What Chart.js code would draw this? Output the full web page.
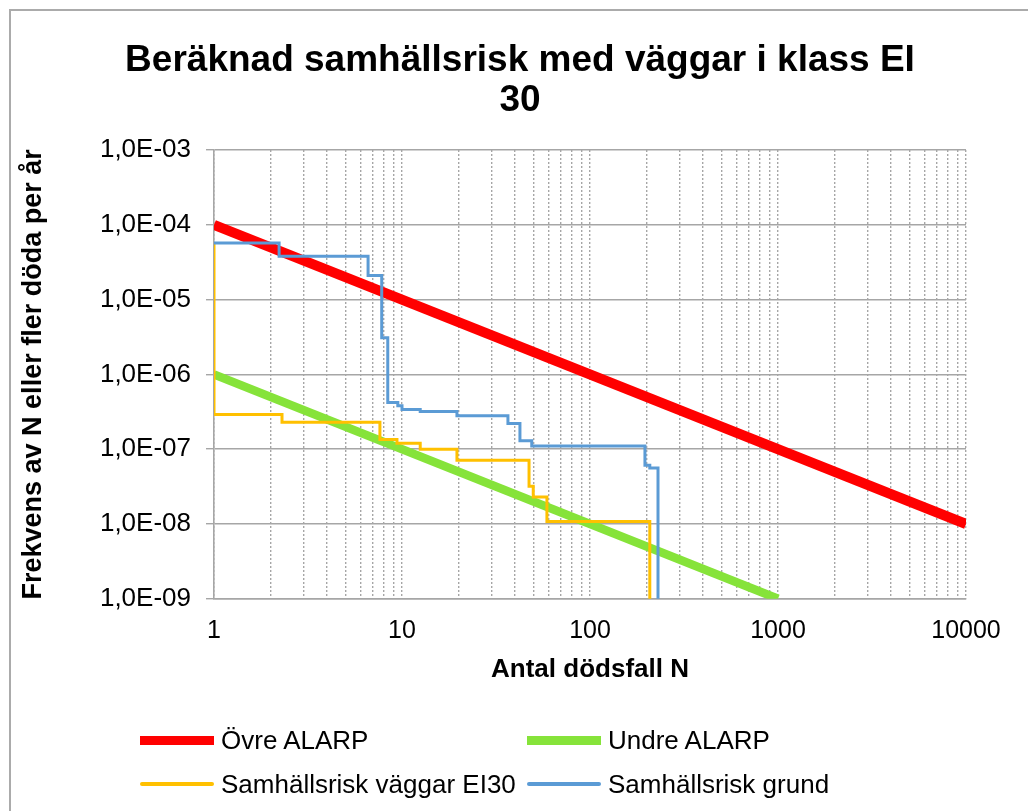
<!DOCTYPE html>
<html>
<head>
<meta charset="utf-8">
<title>Beräknad samhällsrisk</title>
<script src="https://cdn.jsdelivr.net/npm/chart.js@4.4.1/dist/chart.umd.min.js"></script>
<style>
  body { margin: 0; background: #fff; }
  #wrap { position: relative; width: 1028px; height: 811px; overflow: hidden; background: #fff;
          font-family: "Liberation Sans", Arial, sans-serif; }
  #frame { position: absolute; left: 9px; top: 9px; width: 1200px; height: 1000px;
           border: 2px solid #ABABAB; box-sizing: border-box; }
  #chart { position: absolute; left: 0; top: 0; }
  .leg-item { position: absolute; height: 30px; display: flex; align-items: center;
              font-size: 26px; color: #000; white-space: nowrap; }
  .leg-swatch { width: 74px; margin-right: 7px; }
</style>
</head>
<body>
<div id="wrap">
  <div id="frame"></div>
  <canvas id="chart" width="1028" height="811"></canvas>
  <div id="legend"></div>
</div>
<script>
// Axis ranges and tick labels
const xTickValues = [1, 10, 100, 1000, 10000];
const xTickLabels = ['1', '10', '100', '1000', '10000'];
const yTickValues = [1e-9, 1e-8, 1e-7, 1e-6, 1e-5, 1e-4, 1e-3];
const yTickLabels = ['1,0E-09', '1,0E-08', '1,0E-07', '1,0E-06', '1,0E-05', '1,0E-04', '1,0E-03'];

// ALARP limits (N, frequency)
const upperN = [1, 10000];
const upperF = [1e-4, 1e-8];
const lowerN = [1, 1000];
const lowerF = [1e-6, 1e-9];

// F/N curves (step curves)
const wallsN = [1, 1, 2.3, 7.63, 9.4, 12.5, 19.6, 47.4, 49.9, 59, 208];
const wallsF = [5.7e-5, 2.9e-7, 2.3e-7, 1.35e-7, 1.2e-7, 1.0e-7, 7.1e-8, 3.2e-8, 2.3e-8, 1.08e-8, 1e-10];
const baseN = [1, 2.22, 6.6, 7.8, 8.4, 9.5, 10, 12.5, 19.6, 36.6, 42.4, 49, 196, 208, 230];
const baseF = [5.7e-5, 3.8e-5, 2.1e-5, 3.1e-6, 4.2e-7, 3.8e-7, 3.4e-7, 3.2e-7, 2.8e-7, 2.2e-7, 1.3e-7, 1.1e-7, 6.1e-8, 5.6e-8, 1e-10];

// gridlines at 1..9 of every decade
const xGridValues = [];
for (let d = 1; d < 10000; d *= 10) {
  for (let m = 1; m < 10; m++) xGridValues.push(m * d);
}
xGridValues.push(10000);

const toPoints = (xs, ys) => xs.map((x, i) => ({ x: x, y: ys[i] }));
const FONT = "'Liberation Sans', Arial, sans-serif";
const GRID = '#A6A6A6';

// nudge the title centre like the original layout
const titleShift = {
  id: 'titleShift',
  afterLayout(chart) {
    chart.titleBlock.left = 16;
    chart.titleBlock.right = 1024;
  }
};

const chart = new Chart(document.getElementById('chart'), {
  type: 'scatter',
  data: {
    datasets: [
      { label: 'Övre ALARP', data: toPoints(upperN, upperF), borderColor: '#FF0000', borderWidth: 10, order: 4 },
      { label: 'Undre ALARP', data: toPoints(lowerN, lowerF), borderColor: '#86E33A', borderWidth: 8.5, order: 3 },
      { label: 'Samhällsrisk väggar EI30', data: toPoints(wallsN, wallsF), borderColor: '#FFC000', borderWidth: 3, stepped: 'before', order: 2 },
      { label: 'Samhällsrisk grund', data: toPoints(baseN, baseF), borderColor: '#5B9BD5', borderWidth: 3, stepped: 'before', order: 1 }
    ]
  },
  options: {
    responsive: false,
    animation: false,
    showLine: true,
    elements: { point: { radius: 0, hoverRadius: 0 }, line: { tension: 0, fill: false } },
    layout: { padding: { left: 15, right: 62, top: 12, bottom: 122 } },
    plugins: {
      legend: { display: false },
      tooltip: { enabled: false },
      title: {
        display: true,
        text: ['Beräknad samhällsrisk med väggar i klass EI', '30'],
        color: '#000',
        font: { family: FONT, size: 37, weight: 'bold', lineHeight: 1.081 },
        padding: { top: 29, bottom: 29 }
      }
    },
    scales: {
      x: {
        type: 'logarithmic',
        min: 1,
        max: 10000,
        afterBuildTicks: axis => {
          axis.ticks = xGridValues.map(v => ({ value: v }));
        },
        ticks: {
          autoSkip: false,
          maxRotation: 0,
          padding: 17,
          color: '#000',
          font: { family: FONT, size: 25 },
          callback: value => {
            const i = xTickValues.indexOf(value);
            return i >= 0 ? xTickLabels[i] : '';
          }
        },
        grid: { color: GRID, lineWidth: 1.4, drawTicks: false },
        border: { display: true, color: GRID, width: 1.6, dash: [2, 2] },
        title: {
          display: true,
          text: 'Antal dödsfall N',
          color: '#000',
          font: { family: FONT, size: 26, weight: 'bold' },
          padding: { top: -9, bottom: 4 }
        }
      },
      y: {
        type: 'logarithmic',
        min: 1e-9,
        max: 1e-3,
        afterBuildTicks: axis => {
          axis.ticks = yTickValues.map(v => ({ value: v }));
        },
        afterFit: axis => { axis.width = 199; },
        ticks: {
          padding: 15,
          color: '#000',
          font: { family: FONT, size: 26 },
          callback: value => {
            const i = yTickValues.indexOf(value);
            return i >= 0 ? yTickLabels[i] : '';
          }
        },
        grid: { color: GRID, lineWidth: 1.4, tickLength: 8, tickColor: GRID },
        border: { display: true, color: GRID, width: 1.6 },
        title: {
          display: true,
          text: 'Frekvens av N eller fler döda per år',
          color: '#000',
          font: { family: FONT, size: 27, weight: 'bold' },
          padding: { top: 2, bottom: 4 }
        }
      }
    }
  },
  plugins: [titleShift]
});

// HTML legend in two columns, built from the datasets
const legendCols = [140, 527];
const legendRows = [740, 784];
const legend = document.getElementById('legend');
chart.data.datasets.forEach((ds, i) => {
  const item = document.createElement('div');
  item.className = 'leg-item';
  item.style.left = legendCols[i % 2] + 'px';
  item.style.top = (legendRows[Math.floor(i / 2)] - 15) + 'px';
  const sw = document.createElement('span');
  sw.className = 'leg-swatch';
  const h = ds.borderWidth > 5 ? 9 : 4;
  sw.style.height = h + 'px';
  sw.style.background = ds.borderColor;
  sw.style.borderRadius = ds.borderWidth > 5 ? '0' : '2px';
  item.appendChild(sw);
  const txt = document.createElement('span');
  txt.textContent = ds.label;
  item.appendChild(txt);
  legend.appendChild(item);
});
</script>
</body>
</html>
